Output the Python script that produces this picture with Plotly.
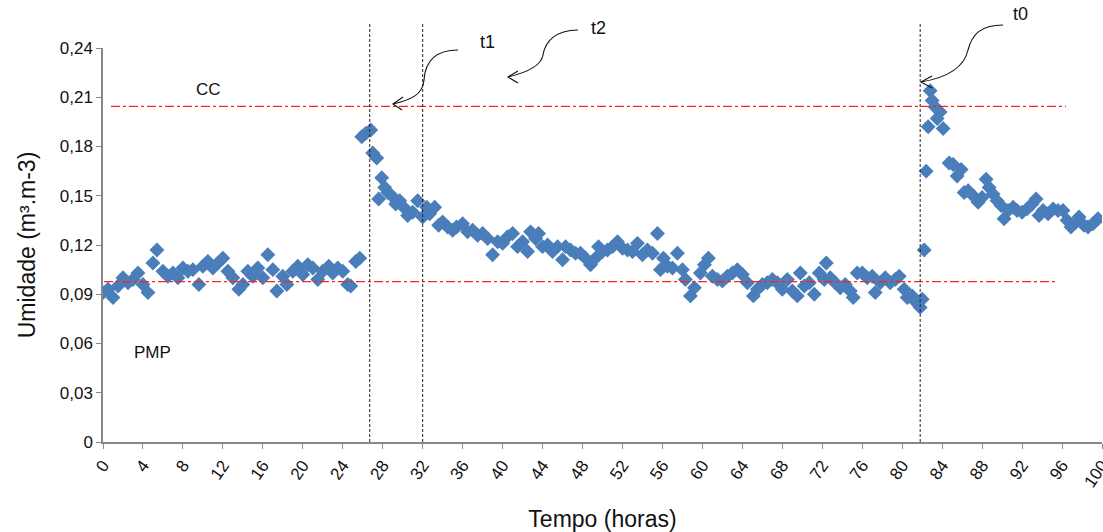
import plotly.graph_objects as go

# Soil moisture readings: (time in hours, volumetric moisture m3/m3)
seg_dry = [
    (0.0, 0.091), (0.5, 0.093), (1.0, 0.088), (1.5, 0.095), (2.0, 0.100), (2.5, 0.097),
    (3.0, 0.099), (3.5, 0.103), (4.0, 0.096), (4.5, 0.091), (5.0, 0.109), (5.4, 0.117),
    (6.0, 0.104), (6.5, 0.101), (7.0, 0.103), (7.5, 0.100), (8.0, 0.106), (8.5, 0.104),
    (9.0, 0.105), (9.6, 0.096), (10.0, 0.107), (10.5, 0.110), (11.0, 0.106), (11.5, 0.109),
    (12.0, 0.112), (12.5, 0.104), (13.0, 0.100), (13.6, 0.093), (14.0, 0.096), (14.5, 0.104),
    (15.0, 0.101), (15.5, 0.106), (16.0, 0.100), (16.5, 0.114), (17.0, 0.105), (17.4, 0.092),
    (18.0, 0.101), (18.4, 0.096), (19.0, 0.104), (19.5, 0.107), (20.0, 0.102), (20.5, 0.108),
    (21.0, 0.106), (21.5, 0.099), (22.0, 0.104), (22.6, 0.107), (23.0, 0.103), (23.5, 0.106),
    (24.0, 0.104), (24.5, 0.096), (24.8, 0.095), (25.3, 0.110), (25.7, 0.112),
]
seg_wet1 = [
    (25.9, 0.186), (26.3, 0.188), (26.8, 0.190), (27.0, 0.176), (27.4, 0.173), (27.6, 0.148),
    (27.9, 0.161), (28.2, 0.155), (28.5, 0.152), (28.9, 0.150), (29.3, 0.145), (29.7, 0.147),
    (30.1, 0.143), (30.5, 0.138), (31.0, 0.140), (31.5, 0.147), (32.0, 0.137), (32.4, 0.143),
    (32.7, 0.139), (33.2, 0.143), (33.6, 0.132), (34.0, 0.134), (34.5, 0.131), (35.0, 0.129),
    (35.4, 0.131),
]
seg_drain = [
    (36.0, 0.133), (36.5, 0.128), (37.0, 0.129), (37.5, 0.126), (38.0, 0.127), (38.5, 0.124),
    (39.0, 0.114), (39.5, 0.122), (40.0, 0.121), (40.5, 0.125), (41.0, 0.127), (41.5, 0.119),
    (42.0, 0.122), (42.5, 0.116), (42.8, 0.128), (43.3, 0.124), (43.6, 0.127), (44.0, 0.119),
    (44.5, 0.120), (45.0, 0.116), (45.5, 0.119), (46.0, 0.111), (46.3, 0.119), (46.8, 0.117),
    (47.3, 0.115), (47.8, 0.115), (48.3, 0.112), (48.8, 0.108), (49.3, 0.112), (49.6, 0.119),
    (50.0, 0.116), (50.5, 0.117), (51.0, 0.119), (51.5, 0.122), (52.0, 0.118), (52.5, 0.117),
    (53.0, 0.116), (53.5, 0.121), (54.0, 0.114), (54.5, 0.117), (55.0, 0.115), (55.5, 0.127),
    (55.8, 0.105),
]
seg_low = [
    (56.1, 0.112), (56.5, 0.107), (57.0, 0.106), (57.5, 0.115), (58.0, 0.105), (58.3, 0.099),
    (58.8, 0.089), (59.2, 0.094), (59.8, 0.103), (60.2, 0.108), (60.6, 0.112), (61.0, 0.101),
    (61.5, 0.099), (62.0, 0.098), (62.5, 0.101), (63.0, 0.103), (63.5, 0.105), (64.0, 0.102),
    (64.5, 0.097), (65.1, 0.089), (65.5, 0.093), (66.0, 0.096), (66.5, 0.097), (67.0, 0.099),
    (67.5, 0.097), (68.0, 0.093), (68.5, 0.099), (69.0, 0.092), (69.5, 0.089), (69.8, 0.103),
    (70.2, 0.095), (70.7, 0.097), (71.2, 0.090), (71.7, 0.103), (72.2, 0.099), (72.4, 0.109),
    (72.8, 0.100), (73.3, 0.097), (73.8, 0.094), (74.3, 0.096), (74.8, 0.092), (75.1, 0.088),
    (75.5, 0.103), (76.0, 0.103), (76.5, 0.100), (77.0, 0.101), (77.3, 0.091), (77.8, 0.097),
    (78.3, 0.100), (78.8, 0.097), (79.3, 0.099), (79.7, 0.101), (80.2, 0.093), (80.5, 0.088),
    (81.0, 0.089), (81.4, 0.085), (81.8, 0.082), (82.0, 0.087),
]
seg_wet2 = [
    (82.2, 0.117), (82.4, 0.165), (82.6, 0.192), (82.8, 0.214), (83.0, 0.208), (83.3, 0.204),
    (83.5, 0.197), (83.8, 0.201), (84.1, 0.191), (84.7, 0.170), (85.1, 0.169), (85.5, 0.162),
    (85.9, 0.166), (86.2, 0.152), (86.6, 0.153), (87.1, 0.150), (87.6, 0.146), (88.0, 0.149),
    (88.4, 0.160), (88.7, 0.155), (89.1, 0.151), (89.5, 0.147), (89.9, 0.144), (90.2, 0.136),
    (90.6, 0.141), (91.1, 0.143), (91.5, 0.141), (92.0, 0.140), (92.5, 0.142), (93.0, 0.145),
    (93.4, 0.148), (93.7, 0.138), (94.1, 0.141), (94.6, 0.139), (95.1, 0.142), (95.6, 0.141),
    (96.1, 0.141), (96.5, 0.135), (96.9, 0.131), (97.4, 0.134), (97.7, 0.137), (98.2, 0.132),
    (98.6, 0.131), (99.1, 0.133), (99.6, 0.136),
]

readings = seg_dry + seg_wet1 + seg_drain + seg_low + seg_wet2
hours = [t for t, _ in readings]
moisture = [v for _, v in readings]

# Reference levels: field capacity (CC) and wilting point (PMP)
cc_level = 0.2045
cc_span = (0.8, 96.4)
pmp_level = 0.0977
pmp_span = (0.1, 95.6)

# Event times (irrigation markers)
event_times = [26.7, 32.0, 81.8]

x_ticks = list(range(0, 101, 4))
y_ticks = [0, 0.03, 0.06, 0.09, 0.12, 0.15, 0.18, 0.21, 0.24]
y_tick_text = ["0", "0,03", "0,06", "0,09", "0,12", "0,15", "0,18", "0,21", "0,24"]

W, H = 1103, 532
ML, MR, MT, MB = 103, 1, 48, 90
PW, PH = W - ML - MR, H - MT - MB


def px(x, y):
    """Convert page pixel position to paper coordinates."""
    return (x - ML) / PW, (H - MB - y) / PH


def path(points_cmds):
    out = []
    for cmd, pts in points_cmds:
        coords = " ".join("%.5f,%.5f" % px(*p) for p in pts)
        out.append(cmd + " " + coords)
    return " ".join(out)


fig = go.Figure()
fig.add_trace(go.Scatter(
    x=hours, y=moisture, mode="markers",
    marker=dict(symbol="diamond", size=11.5, color="#4A7EBB", line=dict(width=0)),
    showlegend=False, hoverinfo="x+y",
))

shapes = []
# Reference lines
shapes.append(dict(type="line", xref="x", yref="y", x0=cc_span[0], x1=cc_span[1],
                   y0=cc_level, y1=cc_level, line=dict(color="#FF2020", width=1.2, dash="dashdot")))
shapes.append(dict(type="line", xref="x", yref="y", x0=pmp_span[0], x1=pmp_span[1],
                   y0=pmp_level, y1=pmp_level, line=dict(color="#FF2020", width=1.2, dash="dashdot")))
# Event markers
top_paper = px(0, 22)[1]
for t in event_times:
    shapes.append(dict(type="line", xref="x", yref="paper", x0=t, x1=t, y0=0, y1=top_paper,
                       line=dict(color="#222222", width=1, dash="3px,2px")))

# Curved pointer arrows for t1, t2, t0
arrow_curves = [
    [("M", [(458, 50)]), ("C", [(432, 50), (425, 65), (424, 80)]), ("C", [(423, 95), (410, 100), (393, 104)])],
    [("M", [(578, 30)]), ("C", [(555, 30), (545, 42), (543, 55)]), ("C", [(541, 66), (525, 73), (508, 77)])],
    [("M", [(1003, 25)]), ("C", [(980, 25), (972, 35), (968, 50)]), ("C", [(964, 68), (945, 78), (921, 82)])],
]
arrow_heads = [
    [("M", [(403, 97)]), ("L", [(393, 104)]), ("L", [(402, 110)])],
    [("M", [(518, 71)]), ("L", [(508, 77)]), ("L", [(518, 83)])],
    [("M", [(932, 76)]), ("L", [(921, 82)]), ("L", [(932, 88)])],
]
for c in arrow_curves + arrow_heads:
    shapes.append(dict(type="path", xref="paper", yref="paper", path=path(c),
                       line=dict(color="#111111", width=1.1)))

annotations = []
for text, (ax_, ay_), size in [("t1", (487, 42), 18), ("t2", (598, 28), 18), ("t0", (1020, 14), 18),
                               ("CC", (208, 89), 17), ("PMP", (152, 352), 17)]:
    xp, yp = px(ax_, ay_)
    annotations.append(dict(text=text, x=xp, y=yp, xref="paper", yref="paper", showarrow=False,
                            xanchor="center", yanchor="middle",
                            font=dict(size=size, color="#111111", family="Liberation Sans, Arial")))

fig.update_layout(
    width=W, height=H,
    margin=dict(l=ML, r=MR, t=MT, b=MB, autoexpand=False),
    paper_bgcolor="white", plot_bgcolor="white",
    font=dict(family="Liberation Sans, Arial", color="#111111"),
    shapes=shapes, annotations=annotations,
    xaxis=dict(range=[0, 100], tickvals=x_ticks, ticktext=[str(v) for v in x_ticks],
               tickangle=-55, ticks="outside", ticklen=5, tickcolor="#888888",
               showline=True, linecolor="#888888", linewidth=1.5, showgrid=False, zeroline=False,
               tickfont=dict(size=17), automargin=False, ticklabeloverflow="allow",
               title=dict(text="Tempo (horas)", font=dict(size=23), standoff=26)),
    yaxis=dict(range=[0, 0.24], tickvals=y_ticks, ticktext=y_tick_text,
               ticks="outside", ticklen=5, tickcolor="#888888",
               showline=True, linecolor="#888888", linewidth=1.5, showgrid=False, zeroline=False,
               tickfont=dict(size=17), automargin=False,
               title=dict(text="Umidade (m³.m-3)", font=dict(size=23), standoff=18)),
)

fig.write_html("out.html")
